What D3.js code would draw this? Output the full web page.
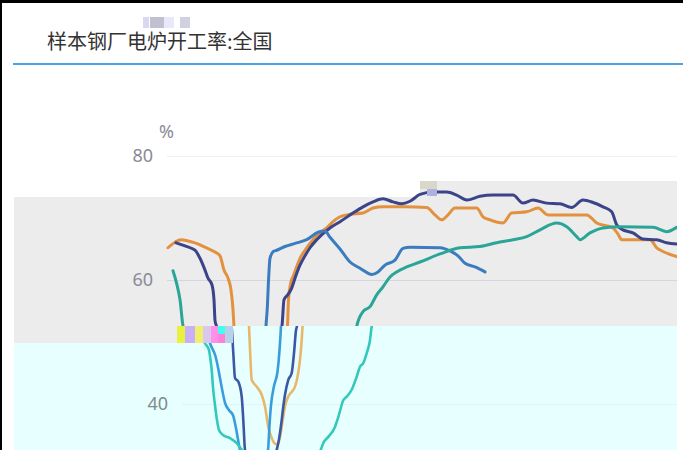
<!DOCTYPE html>
<html><head><meta charset="utf-8">
<script src="https://cdn.jsdelivr.net/npm/d3@7"></script>
<style>body{margin:0;background:#fff;}svg{display:block;font-family:"Noto Sans CJK SC","Noto Sans",sans-serif;}</style>
</head><body>
<svg id="c" width="683" height="450"></svg>
<script>
const title = "样本钢厂电炉开工率:全国";
const unitLabel = "%";
const yTicks = [40, 60, 80];
const yTicksUpper = [60, 80];
const yTicksLower = [40];
// [day index, value %]
const seriesOrange = [[0,65.2],[3.5,66.1],[6.5,66.5],[10,66.3],[13.5,66.0],[18.5,65.3],[23.5,64.5],[26,63.9],[28,61.6],[30,60.3],[31.5,58.4],[32.5,55.2],[33,52.5],[33.75,47.1],[34.35,43.9],[36.85,42.8],[39.35,41.5],[41,39.6],[42.65,36.3],[44.35,34.5],[46.5,33.5],[47.65,33.7],[48.85,35.3],[49.85,37.4],[51,39.6],[52.65,41.2],[56,42.8],[57.15,44.2],[58.5,47.1],[59.35,50.3],[59.75,52.5],[60.25,56.8],[61.5,59.7],[62.5,60.5],[64.5,62.3],[66,63.5],[68.5,64.8],[72.5,66.5],[76,67.6],[79.35,68.4],[82.5,69.4],[86,70.2],[91,70.6],[97.5,70.8],[102.5,71.6],[107.5,71.8],[118.5,71.8],[129.35,71.7],[133.5,70.5],[136.85,69.7],[140,70.5],[143.5,71.6],[154.35,71.6],[157.5,70.2],[161,69.7],[167.5,69.2],[171.85,70.8],[179.35,71.0],[185,71.6],[190,70.5],[209.35,70.5],[214.35,69.2],[222.5,68.4],[225,67.4],[226.85,66.5],[241,66.5],[244.35,65.2],[247.5,64.6],[254.35,63.8]];
const seriesNavy = [[4,66.0],[8.5,65.5],[13.5,64.8],[16,63.5],[18.5,61.6],[20,60.3],[22,59.2],[23,56.8],[23.5,53.5],[24.35,52.3],[25.15,48.2],[26,44.2],[27.65,43.6],[29.35,41.2],[30.15,37.4],[31,32.6],[34,30.0],[39,28.5],[44,30.0],[46.85,32.6],[47.65,33.7],[49.35,37.4],[50.15,39.6],[51,41.5],[52.65,43.9],[54.35,45.0],[55.5,48.2],[56.5,51.9],[57,52.6],[58,56.8],[59.85,57.6],[61.85,58.7],[63.5,60.3],[66,62.4],[68.5,63.9],[71,65.2],[74.35,66.5],[81,68.4],[86,69.4],[92.5,70.8],[97.5,71.8],[102.5,72.6],[107.5,73.1],[112.5,72.6],[116.85,72.3],[121,72.7],[126,73.8],[132.5,74.2],[139.35,74.2],[144.35,73.7],[149.35,72.9],[156,73.5],[162.5,73.7],[172.5,73.7],[177.5,72.4],[182.5,72.9],[189.35,72.4],[196,72.3],[201.85,71.7],[207.5,72.9],[212.5,72.5],[217.5,71.8],[221.85,71.0],[224.35,68.9],[226.85,68.2],[232.5,67.6],[237.5,66.6],[244.35,66.5],[249.35,66.0],[254.35,65.8]];
const seriesBlue = [[12,51.5],[13.5,49.8],[16.25,47.7],[17.75,45.5],[19.35,42.7],[21,40.2],[23,39.0],[25,38.2],[26.85,35.5],[28.5,32.6],[35.5,29.5],[42.5,32.6],[43.25,36.6],[44,39.8],[45.5,42.9],[47.25,45.2],[48.15,48.2],[48.75,51.1],[49,52.6],[49.65,55.5],[50.15,59.2],[51,63.5],[52.65,64.6],[54.35,64.8],[58.5,65.4],[63.5,65.9],[69.35,66.5],[75,67.7],[78.5,67.9],[81,66.9],[86,65.0],[91,62.9],[96,61.9],[102,60.9],[105,61.3],[108.5,62.4],[113.5,63.2],[117.5,65.1],[121,65.3],[136,65.2],[141,64.7],[145,63.9],[148.5,62.7],[153.5,62.1],[158.5,61.3]];
const seriesTeal = [[2.5,61.5],[4.5,59.2],[6,56.8],[7.5,52.6],[11,49.8],[13,48.7],[13.75,47.1],[14.35,45.5],[15,42.7],[16,39.8],[17,37.4],[18,35.8],[20,35.0],[23.5,34.5],[26.85,33.7],[29.35,32.6],[36,30.0],[51,28.0],[63.5,30.0],[68.85,32.6],[70.15,33.7],[72.65,34.7],[76,36.3],[77.65,37.9],[80.15,40.6],[81.85,41.2],[84.35,42.3],[86.85,44.4],[88.5,46.0],[90.15,46.6],[91.85,48.2],[93.5,50.3],[94.35,52.5],[97.5,54.9],[101,55.7],[104.35,57.6],[107.5,58.9],[111,60.5],[114.35,61.3],[119.35,62.1],[126,62.9],[136,64.2],[146,65.2],[156,65.4],[164.35,66.0],[172.5,66.5],[179.35,67.0],[186,68.1],[194.35,69.2],[199.35,68.6],[204.35,67.0],[206,66.5],[211,67.6],[217.5,68.4],[226,68.6],[242.5,68.5],[249.35,67.8],[254.35,68.5]];

const series = [
  {data: seriesOrange, up: "#e2913f", low: "#e8b86a"},
  {data: seriesNavy,   up: "#3b4489", low: "#3a58a4"},
  {data: seriesBlue,   up: "#3a7cbf", low: "#379ddc"},
  {data: seriesTeal,   up: "#2aa597", low: "#33c9ba"}
];

const svg = d3.select("#c");
const defs = svg.append("defs");
defs.append("clipPath").attr("id","clipUp").append("rect").attr("x",0).attr("y",0).attr("width",677).attr("height",326);
defs.append("clipPath").attr("id","clipLow").append("rect").attr("x",0).attr("y",326).attr("width",677).attr("height",124);

// backgrounds
svg.append("rect").attr("x",14).attr("y",197).attr("width",663).attr("height",146).attr("fill","#ececec");
svg.append("rect").attr("x",420).attr("y",181).attr("width",257).attr("height",20).attr("fill","#ececec");
svg.append("rect").attr("x",177).attr("y",326).attr("width",500).attr("height",124).attr("fill","#e8ffff");
svg.append("rect").attr("x",14).attr("y",343).attr("width",163).attr("height",107).attr("fill","#e8ffff");

// frame
svg.append("rect").attr("x",0).attr("y",0).attr("width",683).attr("height",3).attr("fill","#000");
svg.append("rect").attr("x",0).attr("y",0).attr("width",2).attr("height",450).attr("fill","#000");

// title
svg.append("text").attr("x",47).attr("y",49).attr("font-size",20).attr("fill","#333").text(title);
svg.append("rect").attr("x",13).attr("y",63).attr("width",670).attr("height",2).attr("fill","#4aa3e6");

const yScale = d3.scaleLinear().domain([40,80]).range([404,156]);
const xUp = d3.scaleLinear().domain([0,255]).range([168,678]);
const xLow = d3.scaleLinear().domain([0,255]).range([183,693]);

function panel(xs, clip, ticks, axisX, colorKey, width, gridColor, labelColor) {
  const g = svg.append("g").attr("clip-path", "url(#"+clip+")");
  g.selectAll("line.grid").data(ticks).join("line")
    .attr("x1", xs(-0.5)).attr("x2", 683)
    .attr("y1", d => yScale(d)+0.5).attr("y2", d => yScale(d)+0.5)
    .attr("stroke", d => typeof gridColor === "function" ? gridColor(d) : gridColor).attr("stroke-width", 1.2);
  const ax = svg.append("g").attr("transform","translate("+axisX+",0)")
    .call(d3.axisLeft(yScale).tickValues(ticks).tickSize(0).tickPadding(5));
  ax.select(".domain").remove();
  ax.selectAll("text").attr("font-size",18).attr("fill",labelColor)
    .attr("font-family","'Noto Sans','Liberation Sans',sans-serif");
  const line = d3.line().x(d => xs(d[0])).y(d => yScale(d[1])).curve(d3.curveMonotoneX);
  g.selectAll("path.s").data(series).join("path")
    .attr("d", d => line(d.data)).attr("fill","none")
    .attr("stroke", d => d[colorKey]).attr("stroke-width", width)
    .attr("stroke-linejoin","round").attr("stroke-linecap","round");
}
panel(xUp, "clipUp", yTicksUpper, 158, "up", 3, d => d === 80 ? "#f0f0f8" : "#d6d6e2", "#8a8a98");
panel(xLow, "clipLow", yTicksLower, 173, "low", 2.6, "#e0f4f4", "#7f8c8c");

svg.append("text").attr("x",159).attr("y",138).attr("font-size",18).attr("fill","#8a8a98")
  .attr("font-family","'Noto Sans',sans-serif").text(unitLabel);

// glitch patches seen in the reference
const glitch = [
  [177,326,8,17,"#e8f040"],[185,326,10,17,"#c8b0f8"],[195,326,8,17,"#f0f070"],[203,326,8,17,"#d8c8f0"],
  [211,326,7,17,"#ff90e8"],[218,326,7,8,"#40fff0"],[218,334,7,9,"#ff80d8"],[225,326,8,17,"#b8d0e8"],
  [143,17,6,11,"#d8d8f0"],[150,17,14,11,"#c0c0d0"],[164,17,10,11,"#e8e8f8"],[180,17,10,11,"#d0d0e0"],
  [420,181,17,8,"#d8d8c8"],[427,189,10,7,"#b0b0e0"]
];
svg.selectAll("rect.gl").data(glitch).join("rect").attr("class","gl")
  .attr("x",d=>d[0]).attr("y",d=>d[1]).attr("width",d=>d[2]).attr("height",d=>d[3]).attr("fill",d=>d[4]);
</script>
</body></html>
